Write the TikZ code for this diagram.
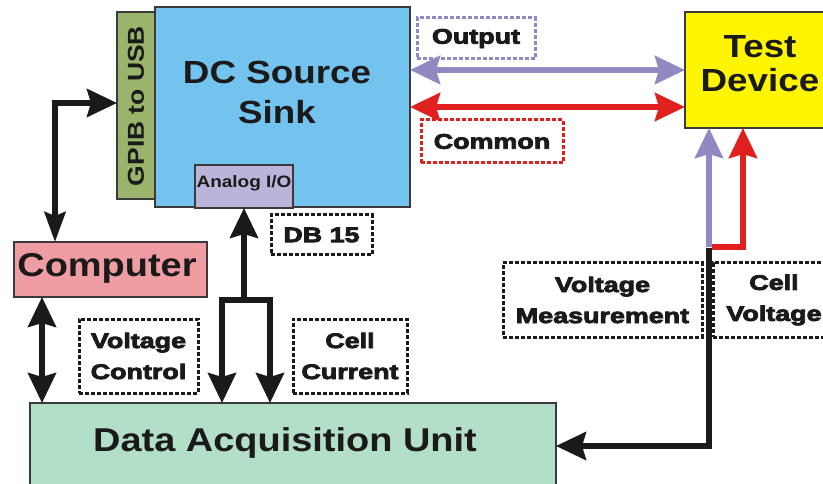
\documentclass[tikz,border=0pt]{standalone}
\usepackage{fontspec}
\setmainfont{Liberation Sans}[FakeStretch=1.15]
\newfontfamily\heavy{Liberation Sans}[FakeStretch=1.28,FakeBold=4]
\usetikzlibrary{arrows.meta}
\definecolor{dcblue}{HTML}{74C3EF}
\definecolor{gpibgreen}{HTML}{9BB46B}
\definecolor{aiolav}{HTML}{BBB3D8}
\definecolor{comppink}{HTML}{F09CA3}
\definecolor{daqgreen}{HTML}{B3DEC8}
\definecolor{tdyellow}{HTML}{FFF500}
\definecolor{lav}{HTML}{9089C2}
\definecolor{rd}{HTML}{E0201E}
\definecolor{edgegray}{HTML}{3A3A3A}
\definecolor{ink}{HTML}{1A1A1A}
\tikzset{
  blk/.style={draw=edgegray, line width=1.3pt, inner sep=0pt, outer sep=0pt, anchor=north west},
  bigtxt/.style={inner sep=0pt, align=center, text=ink, font=\bfseries\fontsize{32}{40}\selectfont},
  lbl/.style={line width=3pt, dash pattern=on 4pt off 2pt, inner sep=0pt, outer sep=0pt, align=center, text=ink,
    font=\heavy\bfseries\fontsize{21}{31}\selectfont},
  headk/.tip={Stealth[length=30pt,width=28pt,inset=4pt]},
  heads/.tip={Stealth[length=30pt,width=21pt,inset=4pt]},
  bk/.style={draw=ink, line width=5.5pt},
  lavw/.style={draw=lav, line width=6pt},
  redw/.style={draw=rd, line width=6pt},
}
\begin{document}
\begin{tikzpicture}[x=1pt,y=-1pt]
\useasboundingbox (0,0) rectangle (823,484);
\clip (0,0) rectangle (823,484);
\fill[white] (0,0) rectangle (823,484);

% blocks
\node[blk, fill=dcblue, minimum width=255pt, minimum height=200pt] (dc) at (155,7) {};
\node[bigtxt] (dctext) at (277,92) {DC Source\\Sink};
\node[blk, fill=gpibgreen, minimum width=38pt, minimum height=187pt] (gpib) at (117,12) {};
\node[inner sep=0pt, rotate=90, text=ink, font=\bfseries\fontsize{23}{26}\selectfont] (gpibtext) at (136,106) {GPIB to USB};
\node[blk, fill=aiolav, minimum width=98pt, minimum height=43pt] (aio) at (195,165) {};
\node[inner sep=0pt, text=ink, font=\bfseries\fontsize{16.5}{18}\selectfont] (aiotext) at (244,183) {Analog I/O};
\node[blk, fill=comppink, minimum width=193pt, minimum height=55pt] (comp) at (14,242) {};
\node[bigtxt, font=\bfseries\fontsize{33}{40}\selectfont] (comptext) at (107,268) {Computer};
\node[blk, fill=daqgreen, minimum width=526pt, minimum height=100pt] (daq) at (30,403) {};
\node[bigtxt, font=\bfseries\fontsize{33}{40}\selectfont] (daqtext) at (285,443) {Data Acquisition Unit};
\node[blk, fill=tdyellow, minimum width=160pt, minimum height=116pt] (td) at (685,12) {};
\node[bigtxt, font=\bfseries\fontsize{32}{34}\selectfont] (tdtext) at (760,64) {Test\\Device};

% dashed labels
\node[lbl, draw=lav, minimum width=118pt, minimum height=41pt] (outl) at (476,38.5) {Output};
\node[lbl, draw=rd, minimum width=142pt, minimum height=43pt] (coml) at (492,141.5) {Common};
\node[lbl, draw=ink, minimum width=101pt, minimum height=40pt] (dbl) at (321.5,235) {DB 15};
\node[lbl, draw=ink, minimum width=119pt, minimum height=74pt] (vcl) at (138.5,356) {Voltage\\Control};
\node[lbl, draw=ink, minimum width=114pt, minimum height=74pt] (ccl) at (350,356) {Cell\\Current};
\node[lbl, draw=ink, minimum width=199pt, minimum height=74pt] (vml) at (602.5,300) {Voltage\\Measurement};
\node[lbl, draw=ink, minimum width=122pt, minimum height=74pt] (cvl) at (774,300) {Cell\\Voltage};

% connectors
\coordinate (cg) at (55,103);
\draw[bk, {heads}-{headk}, line join=miter] (comp.north -| cg) -- (cg) -- (gpib.west |- cg);
\coordinate (cd) at (42,0);
\draw[bk, {headk}-{headk}] (comp.south -| cd) -- (daq.north -| cd);
\coordinate (aj) at (244,300);
\coordinate (al) at (222,300);
\coordinate (ar) at (270,300);
\draw[bk, -{headk}] (aj) -- (aio.south -| aj);
\draw[bk, {headk}-{headk}, line join=miter] (daq.north -| al) -- (al) -- (ar) -- (daq.north -| ar);
\coordinate (oy) at (0,70);
\draw[lavw, {headk[lav]}-{headk[lav]}] (dc.east |- oy) -- (td.west |- oy);
\coordinate (cy) at (0,107);
\draw[redw, {headk[rd]}-{headk[rd]}] (dc.east |- cy) -- (td.west |- cy);
\coordinate (vm) at (709,247);
\draw[lavw, -{headk[lav]}] (vm) -- (td.south -| vm);
\coordinate (vrl) at (712,247);
\coordinate (vr) at (743,247);
\draw[redw, -{headk[rd]}, line join=miter] (vrl) -- (vr) -- (td.south -| vr);
\coordinate (vb) at (709,446);
\draw[bk, -{headk}, line join=miter] ([yshift=-1pt]vm) -- (vb) -- (daq.east |- vb);
\end{tikzpicture}
\end{document}
